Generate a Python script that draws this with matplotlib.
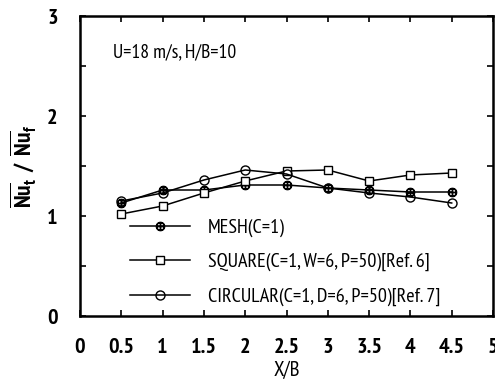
import matplotlib
matplotlib.use("Agg")
import matplotlib.pyplot as plt
from matplotlib import font_manager

# フォント: 太字もある細めのサンセリフを優先
faces = font_manager.fontManager.ttflist
narrow = "Liberation Sans"
for cand in ["Archivo Narrow", "PT Sans Narrow", "Roboto Condensed", "Liberation Sans Narrow"]:
    weights = {f.weight for f in faces if f.name == cand}
    if 400 in weights and 700 in weights:
        narrow = cand
        break
plt.rcParams["font.family"] = [narrow, "DejaVu Sans"]
plt.rcParams["mathtext.fontset"] = "custom"
plt.rcParams["mathtext.rm"] = narrow
plt.rcParams["mathtext.bf"] = narrow + ":bold"

# データ
xb = [0.5, 1.0, 1.5, 2.0, 2.5, 3.0, 3.5, 4.0, 4.5]
mesh = [1.13, 1.26, 1.26, 1.31, 1.31, 1.28, 1.26, 1.24, 1.24]
square = [1.02, 1.10, 1.23, 1.35, 1.45, 1.46, 1.35, 1.41, 1.43]
circular = [1.15, 1.23, 1.36, 1.46, 1.42, 1.28, 1.23, 1.19, 1.13]

labels = ["MESH(C=1)",
          "SQUARE(C=1, W=6, P=50)[Ref. 6]",
          "CIRCULAR(C=1, D=6, P=50)[Ref. 7]"]
xticks = [0, 0.5, 1, 1.5, 2, 2.5, 3, 3.5, 4, 4.5, 5]
xticklabels = ["0", "0.5", "1", "1.5", "2", "2.5", "3", "3.5", "4", "4.5", "5"]

fig = plt.figure(figsize=(4.95, 3.88), dpi=100)
ax = fig.add_axes([80 / 495, 1 - 316 / 388, 413 / 495, 300 / 388])

ax.plot(xb, mesh, color="black", lw=1.1, marker=r"$\oplus$", ms=6, label=labels[0])
ax.plot(xb, square, color="black", lw=1.1, marker="s", ms=5.5, mfc="white", mec="black", mew=1.0, label=labels[1])
ax.plot(xb, circular, color="black", lw=1.1, marker="o", ms=6.5, mfc="none", mec="black", mew=1.0, label=labels[2])

ax.set_xlim(0, 5)
ax.set_ylim(0, 3)
ax.set_xticks(xticks)
ax.set_xticklabels(xticklabels, fontsize=16, fontweight="bold")
ax.set_yticks([0, 0.5, 1, 1.5, 2, 2.5, 3])
ax.set_yticklabels(["0", "", "1", "", "2", "", "3"], fontsize=16, fontweight="bold")
ax.tick_params(direction="in", top=True, right=True, length=4, width=1.2)
ax.tick_params(axis="x", pad=16)
ax.tick_params(axis="y", pad=16)
for s in ax.spines.values():
    s.set_linewidth(1.8)

ax.set_xlabel("X/B", fontsize=15, labelpad=3)
ax.set_ylabel(r"$\overline{\mathbf{Nu}}_{\mathbf{t}}\ \mathbf{/}\ \overline{\mathbf{Nu}}_{\mathbf{f}}$",
              fontsize=17, labelpad=6)

ax.text(0.08, 0.88, "U=18 m/s, H/B=10", transform=ax.transAxes, fontsize=14, va="center")

ax.legend(loc="upper left", bbox_to_anchor=(0.12, 0.325), frameon=False, fontsize=14.5,
          handlelength=3.0, handletextpad=0.9, labelspacing=0.8,
          borderpad=0, borderaxespad=0)

fig.savefig("out.png", dpi=100)
